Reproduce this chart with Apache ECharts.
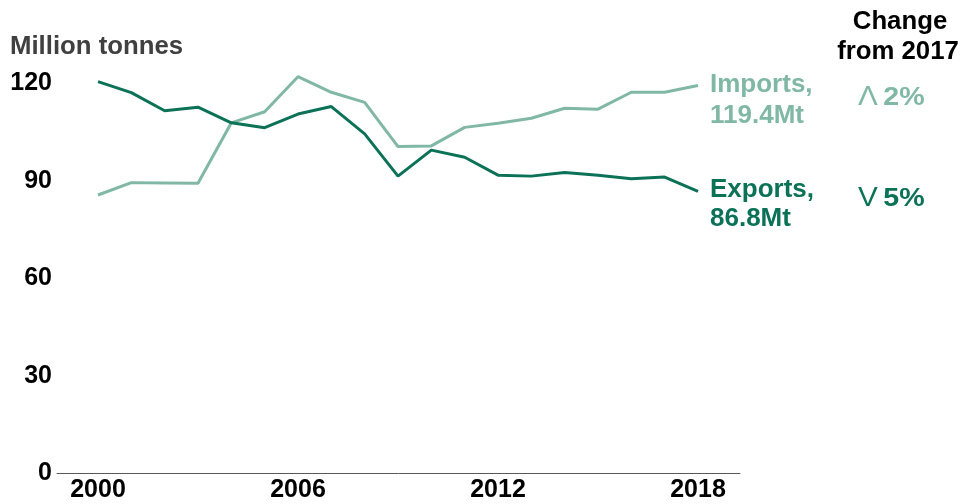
<!DOCTYPE html>
<html>
<head>
<meta charset="utf-8">
<script src="https://cdn.jsdelivr.net/npm/echarts@6/dist/echarts.min.js"></script>
<style>html,body{margin:0;padding:0;background:#fff}#c{width:962px;height:504px}</style>
</head>
<body>
<div id="c"></div>
<script>
var years = [2000,2001,2002,2003,2004,2005,2006,2007,2008,2009,2010,2011,2012,2013,2014,2015,2016,2017,2018];
var imports = [85.7,89.5,89.4,89.3,107.9,111.3,122.1,117.3,114.2,100.6,100.8,106.5,107.8,109.3,112.4,112.1,117.3,117.3,119.4];
var exports_ = [120.6,117.2,111.6,112.7,107.9,106.4,110.6,112.9,104.5,91.5,99.5,97.3,91.8,91.5,92.6,91.8,90.7,91.2,86.8];
var xTickLabels = [2000,2006,2012,2018];
var yTickLabels = [0,30,60,90,120];
var yTitle = 'Million tonnes';
var changeTitle = ['Change','from 2017'];
var importLabel = ['Imports,','119.4Mt'];
var exportLabel = ['Exports,','86.8Mt'];
var importChange = ['\u039B','2%'];
var exportChange = ['V','5%'];

var cImp = '#80b8a5', cExp = '#0b7257';
var FF = '"Liberation Sans", Arial, sans-serif';

function pairs(v){ return years.map(function(y,i){ return [y, v[i]]; }); }

function txt(x, y, s, fill, font, align, sx){
  return {type: 'text', x: x, y: y, scaleX: sx || 1, originX: 0, originY: 0,
    style: {text: s, fill: fill, font: font, align: align || 'left', verticalAlign: 'middle'}};
}

var chart = echarts.init(document.getElementById('c'));
chart.setOption({
  animation: false,
  grid: {left: 57, right: 222, top: 67.25, bottom: 30.5, containLabel: false},
  xAxis: {
    type: 'value', min: 1998.77, max: 2019.26,
    axisLine: {show: true, lineStyle: {color: '#595959', width: 1}},
    axisTick: {show: false},
    splitLine: {show: false},
    axisLabel: {customValues: xTickLabels, color: '#000', fontWeight: 'bold', fontSize: 25, fontFamily: FF, margin: 4,
      formatter: function(v){ return String(v); }}
  },
  yAxis: {
    type: 'value', min: 0, max: 125,
    axisLine: {show: false}, axisTick: {show: false}, splitLine: {show: false},
    axisLabel: {customValues: yTickLabels, color: '#000', fontWeight: 'bold', fontSize: 25, fontFamily: FF, margin: 5}
  },
  series: [
    {name: 'Imports', type: 'line', data: pairs(imports), symbol: 'none', lineStyle: {color: cImp, width: 3}, z: 2},
    {name: 'Exports', type: 'line', data: pairs(exports_), symbol: 'none', lineStyle: {color: cExp, width: 3}, z: 3}
  ],
  graphic: [
    txt(10, 47, yTitle, '#404040', 'bold 25px ' + FF, 'left', 1.03),
    txt(900, 22, changeTitle[0], '#000', 'bold 25px ' + FF, 'center', 1.03),
    txt(898, 52, changeTitle[1], '#000', 'bold 25px ' + FF, 'center', 1.03),
    txt(710, 85, importLabel[0], cImp, 'bold 25px ' + FF, 'left', 1.04),
    txt(710, 116, importLabel[1], cImp, 'bold 25px ' + FF, 'left', 1.04),
    txt(710, 190, exportLabel[0], cExp, 'bold 25px ' + FF, 'left', 1.04),
    txt(710, 219, exportLabel[1], cExp, 'bold 25px ' + FF, 'left', 1.04),
    {type: 'text', x: 858, y: 98, scaleX: 1.1, originX: 0, originY: 0, style: {text: '{a|' + importChange[0] + '}{b|' + importChange[1] + '}', fill: cImp, verticalAlign: 'middle',
      rich: {a: {font: '27px ' + FF, fill: cImp, padding: [0,5,0,0]}, b: {font: 'bold 26px ' + FF, fill: cImp}}}},
    {type: 'text', x: 858, y: 199, scaleX: 1.1, originX: 0, originY: 0, style: {text: '{a|' + exportChange[0] + '}{b|' + exportChange[1] + '}', fill: cExp, verticalAlign: 'middle',
      rich: {a: {font: '27px ' + FF, fill: cExp, padding: [0,5,0,0]}, b: {font: 'bold 26px ' + FF, fill: cExp}}}}
  ]
});
</script>
</body>
</html>
